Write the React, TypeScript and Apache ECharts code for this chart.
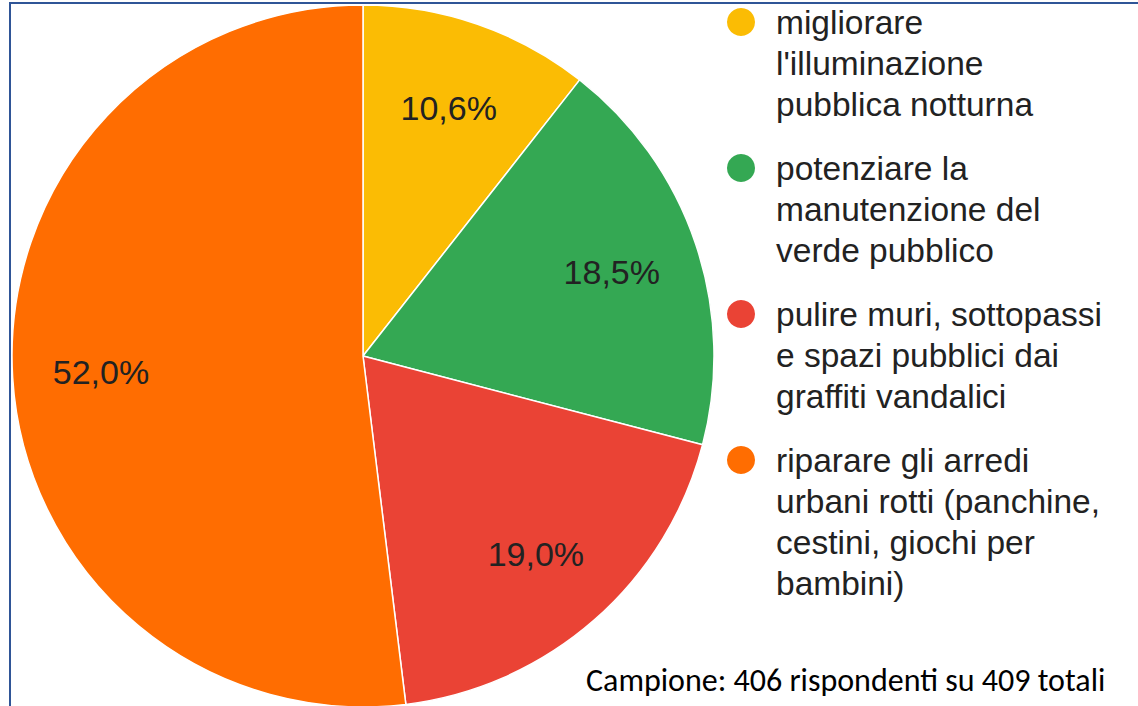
import React, { useEffect, useRef } from "react";
import * as echarts from "echarts";

const categories = [
  "migliorare\nl'illuminazione\npubblica notturna",
  "potenziare la\nmanutenzione del\nverde pubblico",
  "pulire muri, sottopassi\ne spazi pubblici dai\ngraffiti vandalici",
  "riparare gli arredi\nurbani rotti (panchine,\ncestini, giochi per\nbambini)",
];
const values = [10.6, 18.5, 19.0, 52.0];
const colors = ["#FBBC04", "#34A853", "#EA4335", "#FF6D01"];
const footnote = "Campione: 406 rispondenti su 409 totali";

const fmt = (v: number) => v.toFixed(1).replace(".", ",") + "%";

export default function App() {
  const ref = useRef<HTMLDivElement>(null);
  useEffect(() => {
    if (!ref.current) return;
    const chart = echarts.init(ref.current, undefined, { renderer: "svg" });
    const cx = 363;
    const cy = 356;
    const R = 351;
    const data = categories.map((name, i) => ({
      name,
      value: values[i],
      itemStyle: { color: colors[i] },
    }));

    const legendEls: any[] = [];
    let y = 22;
    const lh = 41;
    categories.forEach((name, i) => {
      legendEls.push({
        type: "circle",
        shape: { cx: 741, cy: y, r: 14 },
        style: { fill: colors[i] },
      });
      legendEls.push({
        type: "text",
        x: 776,
        y: y - lh / 2,
        style: {
          text: name,
          fontSize: 33.5,
          lineHeight: lh,
          fontFamily: "'Liberation Sans', Arial, sans-serif",
          fill: "#222222",
          verticalAlign: "top",
          align: "left",
        },
      });
      y += name.split("\n").length * lh + 23;
    });

    chart.setOption({
      animation: false,
      backgroundColor: "#ffffff",
      series: [
        {
          type: "pie",
          center: [cx, cy],
          radius: [0, R],
          startAngle: 90,
          clockwise: true,
          silent: true,
          data,
          label: { show: false },
          labelLine: { show: false },
          itemStyle: { borderColor: "#ffffff", borderWidth: 1.5 },
        },
        {
          type: "pie",
          center: [cx, cy],
          radius: [168, R],
          startAngle: 90,
          clockwise: true,
          silent: true,
          data: categories.map((name, i) => ({ name, value: values[i] })),
          itemStyle: { color: "rgba(0,0,0,0)", borderWidth: 0 },
          label: {
            show: true,
            position: "inside",
            formatter: (p: any) => fmt(p.value),
            fontSize: 34,
            fontFamily: "'Liberation Sans', Arial, sans-serif",
            color: "#222222",
          },
          labelLine: { show: false },
        },
      ],
      graphic: [
        {
          type: "rect",
          shape: { x: 10, y: 3, width: 1300, height: 900 },
          style: { fill: "none", stroke: "#2F5597", lineWidth: 2 },
          silent: true,
        },
        ...legendEls,
        {
          type: "text",
          x: 586,
          y: 680,
          style: {
            text: footnote,
            fontSize: 32,
            fontFamily: "Carlito, Lato, sans-serif",
            fill: "#000000",
            verticalAlign: "middle",
            align: "left",
          },
        },
      ],
    });
    return () => chart.dispose();
  }, []);
  return (
    <div
      ref={ref}
      style={{ position: "absolute", left: 0, top: 0, width: 1138, height: 706 }}
    />
  );
}
